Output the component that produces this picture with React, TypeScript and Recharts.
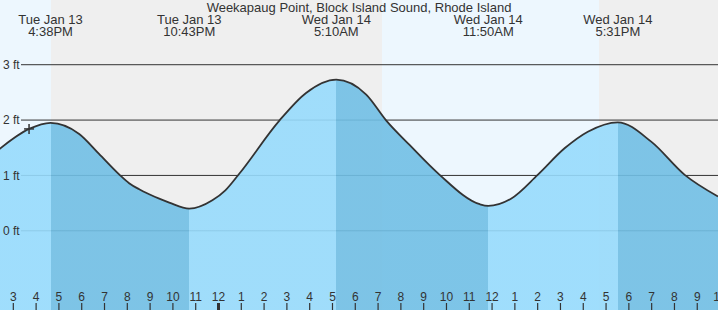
import React from "react";
import { AreaChart, Area, XAxis, YAxis, CartesianGrid, ReferenceDot } from "recharts";

// hours since Tue Jan 13 00:00, and tide height in ft
const times = [
  14.372, 15.69, 16.633, 17.89, 18.76, 19.64, 20.08, 20.52, 20.96, 21.4, 21.84, 22.717, 23.73, 24.3, 24.91,
  26.67, 27.84, 29.167, 30.48, 31.36, 32.38, 33.7, 35.46, 35.833, 36.83, 38.0, 39.18, 40.2, 41.517, 42.98,
  44.45, 45.91,
];
const heights = [
  1.47, 1.84, 1.95, 1.75, 1.39, 1.02, 0.86, 0.75, 0.66, 0.58, 0.51, 0.4, 0.55, 0.73, 1.03,
  1.99, 2.49, 2.73, 2.46, 1.99, 1.55, 1.01, 0.48, 0.45, 0.58, 1.01, 1.49, 1.79, 1.96, 1.61,
  1.01, 0.62,
];

const extremeTimes = [16.633, 22.717, 29.167, 35.833, 41.517];
const extremeDays = ["Tue Jan 13", "Tue Jan 13", "Wed Jan 14", "Wed Jan 14", "Wed Jan 14"];
const extremeClock = ["4:38PM", "10:43PM", "5:10AM", "11:50AM", "5:31PM"];

// sunset, sunrise, sunset
const sunEvents = [16.65, 31.18, 40.68];

const hourTicks = [
  15, 16, 17, 18, 19, 20, 21, 22, 23, 24, 25, 26, 27, 28, 29, 30, 31, 32, 33, 34, 35, 36, 37, 38, 39, 40,
  41, 42, 43, 44, 45, 46,
];
const heightTicks = [0, 1, 2, 3];

const nowTime = 15.69;
const nowHeight = 1.84;

const title = "Weekapaug Point, Block Island Sound, Rhode Island";

const data = times.map((t, i) => ({ t, h: heights[i] }));
const tMin = times[0];
const tMax = times[times.length - 1];
const frac = (t: number) => (t - tMin) / (tMax - tMin);

const FONT = '"Liberation Sans", Arial, sans-serif';
const TEXT = "#333";
const DAY = "#edf7fe";
const NIGHT = "#efefef";
const RISE = "#97dbfc";
const FALL = "#71bfe5";

const hardStops = (edges: number[], colors: string[]) =>
  colors.flatMap((c, i) => [
    <stop key={`a${i}`} offset={edges[i]} stopColor={c} />,
    <stop key={`b${i}`} offset={edges[i + 1]} stopColor={c} />,
  ]);

const bandEdges = [0, ...sunEvents.map(frac), 1];
const bandColors = [DAY, NIGHT, DAY, NIGHT];
const tideEdges = [0, ...extremeTimes.map(frac), 1];
const tideColors = [RISE, FALL, RISE, FALL, RISE, FALL];

const HourTick = (props: any) => {
  const { x, y, payload } = props;
  const v = payload.value;
  const label = v % 12 || 12;
  const midnight = v % 24 === 0;
  return (
    <g>
      <text x={x} y={y} textAnchor="middle" fontSize={12} fill={TEXT} fontFamily={FONT}>
        {label}
      </text>
      <line x1={x} x2={x} y1={y + 2} y2={y + 10} stroke={TEXT} strokeWidth={midnight ? 3 : 1.2} />
    </g>
  );
};

const HeightTick = (props: any) => {
  const { y, payload } = props;
  return (
    <text x={3} y={y} dy="0.35em" textAnchor="start" fontSize={12} fill={TEXT} fontFamily={FONT}>
      {`${payload.value} ft`}
    </text>
  );
};

const ExtremeTick = (props: any) => {
  const { x, y, payload } = props;
  const i = extremeTimes.indexOf(payload.value);
  return (
    <g fontSize={13} fill={TEXT} fontFamily={FONT}>
      <text x={x} y={y + 25} textAnchor="middle">
        {extremeDays[i]}
      </text>
      <text x={x} y={y + 37} textAnchor="middle">
        {extremeClock[i]}
      </text>
    </g>
  );
};

const Cross = (p: any) => (
  <g stroke={TEXT} strokeWidth={1.5}>
    <line x1={p.cx - 5} x2={p.cx + 5} y1={p.cy} y2={p.cy} />
    <line x1={p.cx} x2={p.cx} y1={p.cy - 5} y2={p.cy + 5} />
  </g>
);

const GridLine = (p: any) =>
  p.y1 < 2 || p.y1 > 308 ? (
    <g key={p.index} />
  ) : (
    <line key={p.index} x1={p.x1 + 22} y1={p.y1} x2={p.x2} y2={p.y2} stroke={TEXT} strokeWidth={1} />
  );

export default function App() {
  return (
    <div style={{ position: "absolute", left: 0, top: 0, width: 718, height: 310, overflow: "hidden", fontFamily: FONT }}>
      <AreaChart width={718} height={310} data={data} margin={{ top: -1, right: 0, bottom: -1, left: -1 }}>
        <defs>
          <linearGradient id="bands" x1="0" y1="0" x2="1" y2="0">
            {hardStops(bandEdges, bandColors)}
          </linearGradient>
          <linearGradient id="tideFill" x1="0" y1="0" x2="1" y2="0">
            {hardStops(tideEdges, tideColors)}
          </linearGradient>
        </defs>
        <CartesianGrid fill="url(#bands)" fillOpacity={1} vertical={false} horizontal={GridLine} />
        <XAxis
          dataKey="t"
          type="number"
          domain={[tMin, tMax]}
          allowDataOverflow
          ticks={hourTicks}
          interval={0}
          height={1}
          mirror
          tickSize={10}
          tickMargin={0}
          axisLine={false}
          tickLine={false}
          tick={<HourTick />}
        />
        <XAxis
          xAxisId="top"
          orientation="top"
          dataKey="t"
          type="number"
          domain={[tMin, tMax]}
          allowDataOverflow
          ticks={extremeTimes}
          interval={0}
          height={1}
          mirror
          tickSize={0}
          tickMargin={0}
          axisLine={false}
          tickLine={false}
          tick={<ExtremeTick />}
        />
        <YAxis
          type="number"
          domain={[-1.449, 4.187]}
          allowDataOverflow
          ticks={heightTicks}
          width={1}
          mirror
          tickSize={0}
          tickMargin={4}
          axisLine={false}
          tickLine={false}
          tick={<HeightTick />}
        />
        <Area
          dataKey="h"
          type="monotone"
          baseValue="dataMin"
          fill="url(#tideFill)"
          fillOpacity={0.9}
          stroke={TEXT}
          strokeWidth={1.8}
          dot={false}
          activeDot={false}
          isAnimationActive={false}
        />
        <ReferenceDot x={nowTime} y={nowHeight} r={5} shape={<Cross />} />
      </AreaChart>
      <div
        style={{
          position: "absolute",
          left: 0,
          top: 0,
          width: 718,
          textAlign: "center",
          fontSize: 13,
          lineHeight: "15px",
          color: TEXT,
        }}
      >
        {title}
      </div>
    </div>
  );
}
